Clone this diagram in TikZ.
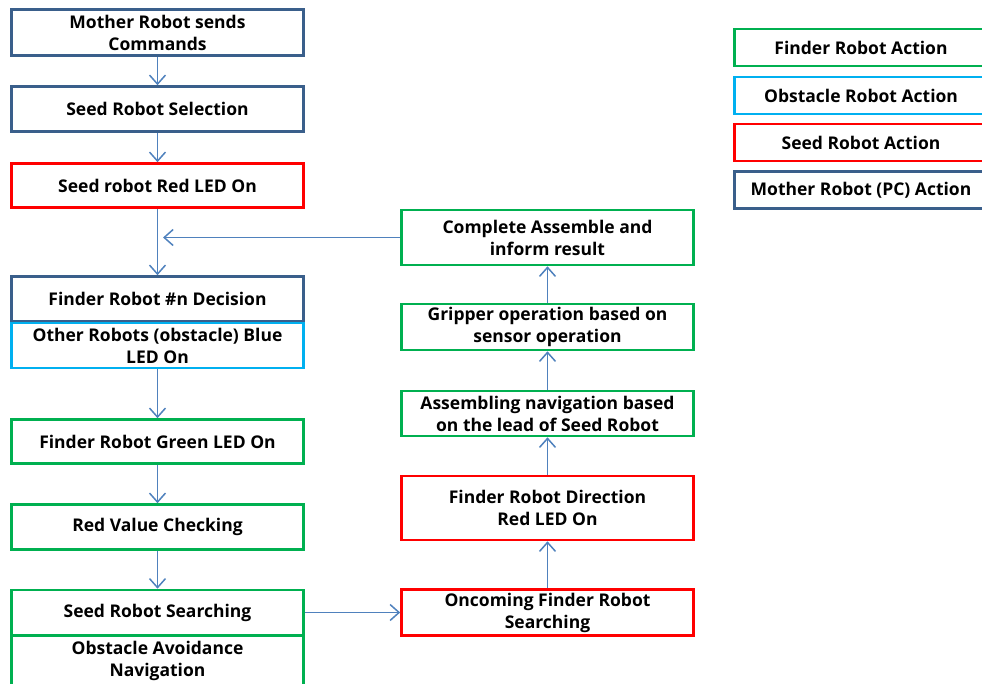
\documentclass[tikz,border=0pt]{standalone}
\usepackage{fontspec}
\setmainfont{Open Sans}
\usetikzlibrary{arrows.meta}
\definecolor{mblue}{HTML}{3A5F8B}
\definecolor{oblue}{HTML}{00B0F0}
\definecolor{sred}{HTML}{FF0000}
\definecolor{fgreen}{HTML}{00B050}
\definecolor{arr}{HTML}{4F81BD}
\begin{document}
\begin{tikzpicture}[x=1pt,y=-1pt]
	\tikzset{b/.style={rectangle,line width=2.6pt,minimum width=292pt,inner sep=0pt,align=center,font=\bfseries\fontsize{17.5}{22}\selectfont},
	a/.style={draw=arr,line width=1.5pt,-{Straight Barb[length=9pt,width=16pt]}}}
	\useasboundingbox(0,0)rectangle(982,684);
	% left column
	\path(157.5,32.5)node[b,draw=mblue,minimum height=46](mo){Mother Robot sends\\Commands};
	\path(157.5,109)node[b,draw=mblue,minimum height=45](sel){Seed Robot Selection};
	\path(157.5,185.5)node[b,draw=sred,minimum height=44](sled){Seed robot Red LED On};
	\path(157.5,299)node[b,draw=mblue,minimum height=45](dec){Finder Robot \#n Decision};
	\path(157.5,345.5)node[b,draw=oblue,minimum height=45](obs){Other Robots (obstacle) Blue\\LED On};
	\path(157.5,441.5)node[b,draw=fgreen,minimum height=44](gled){Finder Robot Green LED On};
	\path(157.5,527)node[b,draw=fgreen,minimum height=45](chk){Red Value Checking};
	\path(157.5,612.5)node[b,draw=fgreen,minimum height=45](srch){Seed Robot Searching};
	\path(157.5,661)node[b,draw=fgreen,minimum height=50](nav){Obstacle Avoidance\\Navigation};
	% right column
	\path(547.5,237.5)node[b,draw=fgreen,minimum height=55](done){Complete Assemble and\\inform result};
	\path(547.5,327)node[b,draw=fgreen,minimum height=46](grip){Gripper operation based on\\sensor operation};
	\path(547.5,413.5)node[b,draw=fgreen,minimum height=45](asm){Assembling navigation based\\on the lead of Seed Robot};
	\path(547.5,508)node[b,draw=sred,minimum height=64](dir){Finder Robot Direction\\Red LED On};
	\path(547.5,612.5)node[b,draw=sred,minimum height=46](onc){Oncoming Finder Robot\\Searching};
	% legend
	\path(861,47.5)node[b,draw=fgreen,minimum width=253,minimum height=37](lf){Finder Robot Action};
	\path(861,95.5)node[b,draw=oblue,minimum width=253,minimum height=37](lo){Obstacle Robot Action};
	\path(861,142.5)node[b,draw=sred,minimum width=253,minimum height=37](ls){Seed Robot Action};
	\path(861,190)node[b,draw=mblue,minimum width=253,minimum height=37](lm){Mother Robot (PC) Action};
	\coordinate(back)at(163,237.5);
	\foreach \x/\y in {
	mo/sel,sel/sled,sled/dec,
	obs/gled,gled/chk,chk/srch,
	onc/dir,dir/asm,asm/grip,grip/done}
	\draw[a](\x)--(\y);
	\draw[a](srch.east)--(onc.west);
	\draw[a](done.west)--(back);
\end{tikzpicture}
\end{document}
